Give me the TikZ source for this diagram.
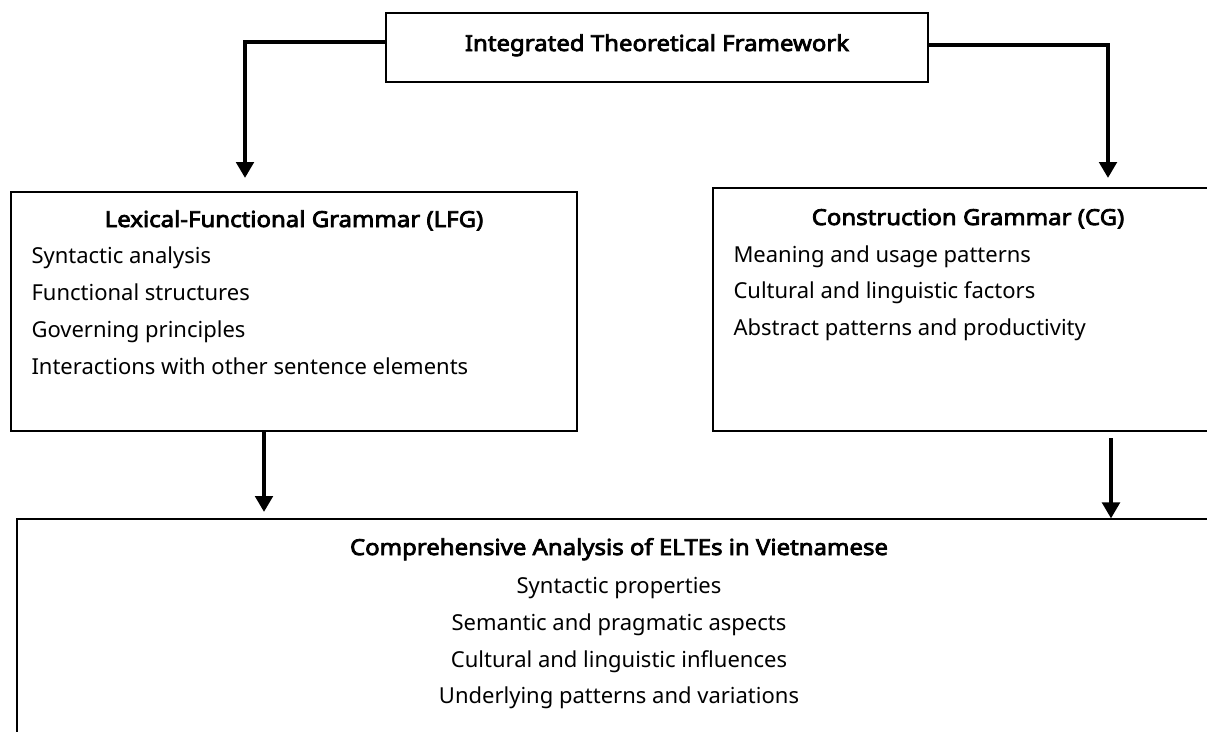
\documentclass[tikz,border=0pt]{standalone}
\usepackage{fontspec}
\setmainfont{Noto Sans}[BoldFont={Noto Sans}, BoldFeatures={FakeBold=3.5, FakeStretch=1.09}]
\usetikzlibrary{arrows.meta}

\tikzset{every picture/.style={line width=0.75pt}}
\tikzset{
  frame/.style={draw, rectangle, inner sep=0pt, line width=0.8pt},
  conn/.style={line width=3.6pt, -{Triangle[width=13pt,length=12pt]}},
  txt/.style={anchor=base west, inner sep=0pt, font=\fontsize{16.5}{20}\selectfont},
  mid/.style={anchor=base, inner sep=0pt, font=\fontsize{16.5}{20}\selectfont},
  ttl/.style={anchor=base, inner sep=0pt, font=\fontsize{16.5}{20}\selectfont\bfseries},
}

\begin{document}
\begin{tikzpicture}[x=0.75pt,y=0.75pt,yscale=-1,xscale=1]
\useasboundingbox (0,0) rectangle (1207,732);

%Shape: Rectangle [top]
\node [frame, minimum width=406.5pt, minimum height=51.75pt] (itf) at (657,47.5) {};
%Shape: Rectangle [LFG]
\node [frame, minimum width=424.5pt, minimum height=179.25pt] (lfg) at (294,311.5) {};
%Shape: Rectangle [CG]
\node [frame, minimum width=382.5pt, minimum height=182.25pt] (cg) at (968,309.5) {};
%Shape: Rectangle [analysis]
\node [frame, minimum width=903pt, minimum height=188.25pt] (ana) at (619,644.5) {};

\coordinate (lfgin) at (245,178);
\coordinate (cgin) at (1108,178);
\coordinate (lfgout) at (264,512);
\coordinate (cgout) at (1111,519);

%Straight Lines
\draw [conn] ([yshift=-4.1pt]itf.west) -| (lfgin);
\draw [conn] ([yshift=-1.9pt]itf.east) -| (cgin);
\draw [conn] (lfgout |- lfg.south) -- (lfgout);
\draw [conn, shorten <=5pt] (cgout |- cg.south) -- (cgout |- ana.north);

% Text Node
\node [ttl] (itft) at (657,51) {Integrated Theoretical Framework};
% Text Node
\node [ttl] (lfgt) at (294,227) {Lexical-Functional Grammar (LFG)};
\node [txt] (lfga) at (31,263) {Syntactic analysis};
\node [txt] (lfgb) at (31,300) {Functional structures};
\node [txt] (lfgc) at (31,337) {Governing principles};
\node [txt] (lfgd) at (31,374) {Interactions with other sentence elements};
% Text Node
\node [ttl] (cgt) at (968,225) {Construction Grammar (CG)};
\node [txt] (cga) at (733,262) {Meaning and usage patterns};
\node [txt] (cgb) at (733,298) {Cultural and linguistic factors};
\node [txt] (cgc) at (733,335) {Abstract patterns and productivity};
% Text Node
\node [ttl] (anat) at (619,555) {Comprehensive Analysis of ELTEs in Vietnamese};
\node [mid] (anaa) at (619,593) {Syntactic properties};
\node [mid] (anab) at (619,630) {Semantic and pragmatic aspects};
\node [mid] (anac) at (619,667) {Cultural and linguistic influences};
\node [mid] (anad) at (619,703) {Underlying patterns and variations};

\end{tikzpicture}
\end{document}
